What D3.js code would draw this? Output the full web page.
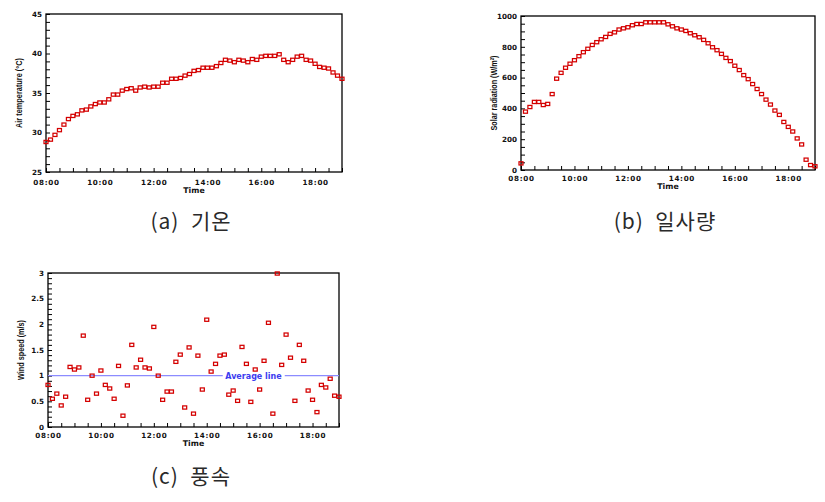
<!DOCTYPE html>
<html>
<head>
<meta charset="utf-8">
<script src="https://cdn.jsdelivr.net/npm/d3@7"></script>
<style>
    html, body { margin: 0; padding: 0; background: #ffffff; }
    svg { display: block; }
    .tick text { font-family: "DejaVu Sans", sans-serif; font-weight: bold; font-size: 7.2px; fill: #111111; }
    .tick line { stroke: #000000; stroke-width: 1; }
</style>
</head>
<body>
<script>
// 时间点（10 分钟间隔）
const times = [
    '08:00', '08:10', '08:20', '08:30', '08:40', '08:50', '09:00', '09:10', '09:20', '09:30', '09:40', '09:50',
    '10:00', '10:10', '10:20', '10:30', '10:40', '10:50', '11:00', '11:10', '11:20', '11:30', '11:40', '11:50',
    '12:00', '12:10', '12:20', '12:30', '12:40', '12:50', '13:00', '13:10', '13:20', '13:30', '13:40', '13:50',
    '14:00', '14:10', '14:20', '14:30', '14:40', '14:50', '15:00', '15:10', '15:20', '15:30', '15:40', '15:50',
    '16:00', '16:10', '16:20', '16:30', '16:40', '16:50', '17:00', '17:10', '17:20', '17:30', '17:40', '17:50',
    '18:00', '18:10', '18:20', '18:30', '18:40', '18:50', '19:00'
];
const xTickLabels = ['08:00', '10:00', '12:00', '14:00', '16:00', '18:00'];

// (a) 기온
const airTemp = [
    28.8, 29.1, 29.7, 30.3, 31.0, 31.7, 32.1, 32.3, 32.8, 32.9,
    33.3, 33.6, 33.8, 33.8, 34.2, 34.8, 34.8, 35.3, 35.5, 35.6,
    35.3, 35.7, 35.8, 35.7, 35.8, 35.8, 36.3, 36.3, 36.8, 36.8,
    36.9, 37.2, 37.4, 37.8, 37.9, 38.2, 38.2, 38.2, 38.4, 38.8,
    39.2, 39.1, 38.9, 39.2, 39.1, 38.9, 39.3, 39.2, 39.6, 39.7,
    39.7, 39.7, 39.9, 39.2, 38.9, 39.2, 39.6, 39.7, 39.2, 39.1,
    38.7, 38.3, 38.2, 38.1, 37.6, 37.2, 36.8
];
const airTicks = [25, 30, 35, 40, 45];

// (b) 일사량
const solarRad = [
    43, 379, 409, 442, 442, 422, 429, 493, 593, 631,
    664, 690, 713, 739, 765, 787, 812, 830, 849, 864,
    884, 894, 912, 920, 927, 940, 948, 948, 959, 959,
    959, 959, 959, 946, 933, 920, 912, 903, 888, 875,
    862, 845, 823, 797, 778, 754, 728, 707, 677, 649,
    616, 590, 558, 526, 493, 457, 425, 386, 358, 312,
    280, 250, 205, 166, 67, 32, 24
];
const solarTicks = [0, 200, 400, 600, 800, 1000];

// (c) 풍속
const windSpeed = [
    0.82, 0.55, 0.65, 0.42, 0.59, 1.17, 1.12, 1.16, 1.78, 0.53,
    1.00, 0.65, 1.10, 0.82, 0.75, 0.55, 1.19, 0.22, 0.81, 1.60,
    1.16, 1.31, 1.16, 1.14, 1.95, 1.00, 0.53, 0.69, 0.69, 1.27,
    1.41, 0.38, 1.55, 0.26, 1.39, 0.73, 2.09, 1.08, 1.23, 1.39,
    1.41, 0.63, 0.71, 0.51, 1.56, 1.23, 0.49, 1.12, 0.73, 1.29,
    2.03, 0.26, 2.99, 1.21, 1.80, 1.35, 0.51, 1.60, 1.29, 0.71,
    0.53, 0.29, 0.82, 0.77, 0.94, 0.61, 0.59
];
const windTicks = [0, 0.5, 1, 1.5, 2, 2.5, 3];
const windAverage = 1.0;
const windAverageLabelTime = '15:46';

const parseTime = d3.timeParse('%H:%M');
const formatTime = d3.timeFormat('%H:%M');

const svg = d3.select('body')
    .append('svg')
    .attr('width', 825)
    .attr('height', 502);

/**
 * 绘制单个面板
 */
const renderPanel = (panel) => {
    let {x0, x1, y0, y1, values, yDomain, yTicks, yMinorStep, yTitle, titleLength,
        caption, captionX, captionY, xLabelPad, timeDy} = panel;

    const x = d3.scaleTime()
        .domain([parseTime(times[0]), parseTime(times[times.length - 1])])
        .range([x0, x1]);
    const y = d3.scaleLinear()
        .domain(yDomain)
        .range([y1, y0]);
    const g = svg.append('g');

    // x 轴：30 分钟刻度，每两小时一个标签
    const xTickValues = d3.timeMinute.every(30).range(x.domain()[0], new Date(+x.domain()[1] + 1));
    g.append('g')
        .attr('transform', `translate(0,${y1})`)
        .call(d3.axisBottom(x)
            .tickValues(xTickValues)
            .tickSize(-4)
            .tickPadding(xLabelPad)
            .tickFormat(d => xTickLabels.includes(formatTime(d)) ? formatTime(d) : ''))
        .call(a => a.select('.domain').remove())
        .selectAll('text')
        .style('letter-spacing', '0.7px');

    // y 轴：小刻度 + 主刻度标签
    const n = Math.round((yDomain[1] - yDomain[0]) / yMinorStep);
    const yTickValues = d3.range(n + 1).map(i => yDomain[0] + i * yMinorStep);
    g.append('g')
        .attr('transform', `translate(${x0},0)`)
        .call(d3.axisLeft(y)
            .tickValues(yTickValues)
            .tickSize(-4)
            .tickPadding(4)
            .tickFormat(v => {
                const t = yTicks.find(t => Math.abs(t - v) < 1e-6);
                return t === undefined ? '' : String(t);
            }))
        .call(a => a.select('.domain').remove());

    // 边框
    g.append('rect')
        .attr('x', x0)
        .attr('y', y0)
        .attr('width', x1 - x0)
        .attr('height', y1 - y0)
        .attr('fill', 'none')
        .attr('stroke', '#000000')
        .attr('stroke-width', 1.3);

    // 平均线（仅风速）
    if (panel.average !== undefined) {
        g.append('line')
            .attr('x1', x0)
            .attr('x2', x1)
            .attr('y1', y(panel.average))
            .attr('y2', y(panel.average))
            .attr('stroke', '#8c8cff')
            .attr('stroke-width', 1.3);
        const bg = g.append('rect').attr('fill', '#ffffff');
        const label = g.append('text')
            .attr('x', x(parseTime(panel.averageLabelTime)))
            .attr('y', y(panel.average) + 3)
            .attr('text-anchor', 'middle')
            .style('font-family', '"DejaVu Sans", sans-serif')
            .style('font-weight', 'bold')
            .style('font-size', '8px')
            .attr('fill', '#3c3cf0')
            .text('Average line');
        const box = label.node().getBBox();
        bg.attr('x', box.x - 2.5)
            .attr('y', box.y)
            .attr('width', box.width + 5)
            .attr('height', box.height);
    }

    // 数据点：空心方块
    g.append('g')
        .selectAll('rect')
        .data(values)
        .join('rect')
        .attr('x', (d, i) => x(parseTime(times[i])) - 2)
        .attr('y', d => y(d) - 1.6)
        .attr('width', 4)
        .attr('height', 3.2)
        .attr('fill', 'none')
        .attr('stroke', '#d40000')
        .attr('stroke-width', 1.25);

    // x 轴标题
    g.append('text')
        .attr('x', (x0 + x1) / 2)
        .attr('y', y1 + timeDy)
        .attr('text-anchor', 'middle')
        .style('font-family', '"DejaVu Sans", sans-serif')
        .style('font-weight', 'bold')
        .style('font-size', '7.8px')
        .attr('fill', '#111111')
        .text('Time');

    // y 轴标题
    g.append('text')
        .attr('transform', `translate(${x0 - 27},${(y0 + y1) / 2}) rotate(-90)`)
        .attr('text-anchor', 'middle')
        .attr('dy', '0.35em')
        .attr('textLength', titleLength)
        .attr('lengthAdjust', 'spacingAndGlyphs')
        .style('font-family', '"Liberation Sans", Arial, sans-serif')
        .style('font-weight', 'bold')
        .style('font-size', '9px')
        .attr('fill', '#111111')
        .text(yTitle);

    // 面板标题
    svg.append('text')
        .attr('x', captionX)
        .attr('y', captionY)
        .attr('text-anchor', 'middle')
        .style('font-family', '"Noto Sans CJK KR", sans-serif')
        .style('font-size', '21px')
        .style('letter-spacing', '1px')
        .attr('fill', '#2a2a2a')
        .text(caption);
};

renderPanel({
    x0: 46, x1: 342, y0: 14, y1: 172,
    values: airTemp, yDomain: [25, 45], yTicks: airTicks, yMinorStep: 1,
    yTitle: 'Air temperature (\u00B0C)', titleLength: 70,
    caption: '(a)\u00A0\u00A0기온', captionX: 191, captionY: 229,
    xLabelPad: 7.5, timeDy: 20.5
});
renderPanel({
    x0: 521, x1: 815, y0: 16, y1: 170,
    values: solarRad, yDomain: [0, 1000], yTicks: solarTicks, yMinorStep: 50,
    yTitle: 'Solar radiation (W/m\u00B2)', titleLength: 75,
    caption: '(b)\u00A0\u00A0일사량', captionX: 665, captionY: 229,
    xLabelPad: 6, timeDy: 19
});
renderPanel({
    x0: 48, x1: 339, y0: 273, y1: 427,
    values: windSpeed, yDomain: [0, 3], yTicks: windTicks, yMinorStep: 0.1,
    yTitle: 'Wind speed (m/s)', titleLength: 60,
    caption: '(c)\u00A0\u00A0풍속', captionX: 191, captionY: 484,
    xLabelPad: 5.5, timeDy: 18.5,
    average: windAverage, averageLabelTime: windAverageLabelTime
});
</script>
</body>
</html>
